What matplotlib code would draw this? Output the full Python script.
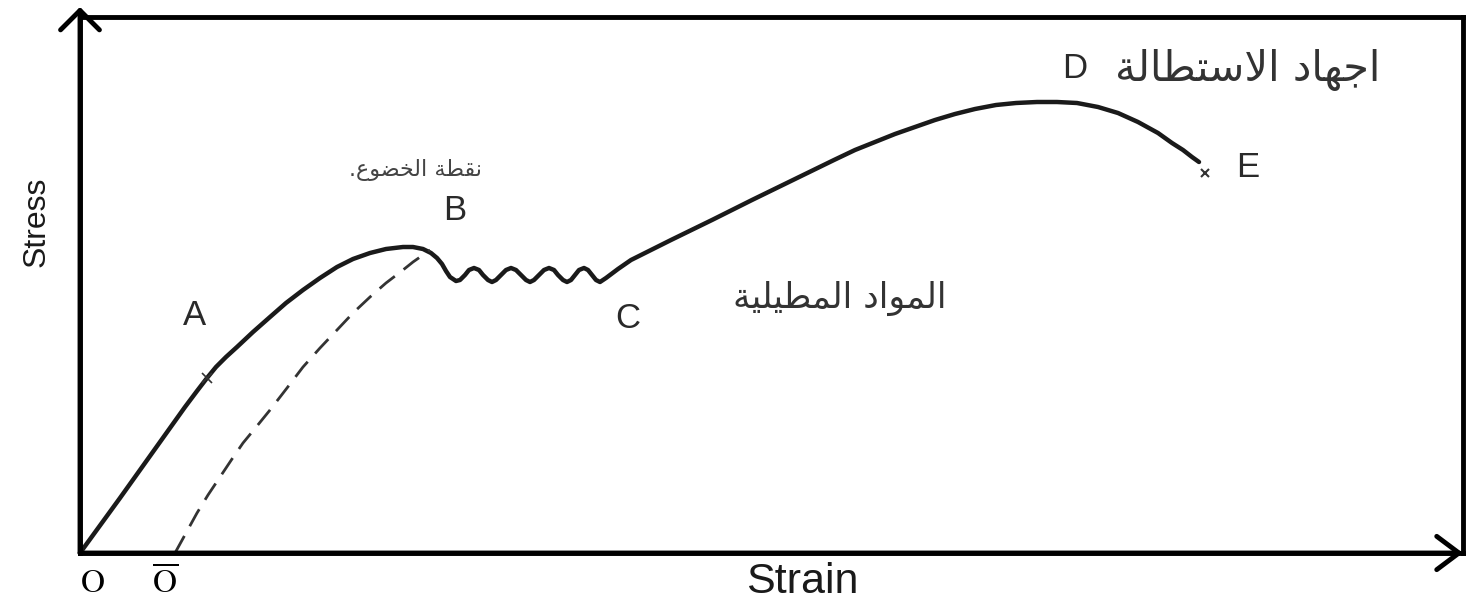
import matplotlib
matplotlib.use("Agg")
import matplotlib.pyplot as plt

# stress-strain curve for a ductile material (units: arbitrary)
# O -> A -> B (yield point)
strain_elastic = [0.00, 0.40, 0.80, 1.05, 1.17, 1.27, 1.36, 1.46, 1.57, 1.73,
                  1.90, 2.06, 2.23, 2.40, 2.57, 2.73, 2.90, 3.06, 3.23, 3.33,
                  3.43, 3.51, 3.57, 3.62, 3.66, 3.70, 3.76]
stress_elastic = [0.00, 0.55, 1.11, 1.46, 1.62, 1.75, 1.86, 1.96, 2.06, 2.21,
                  2.36, 2.50, 2.63, 2.75, 2.86, 2.94, 3.00, 3.04, 3.06, 3.06,
                  3.04, 3.00, 2.95, 2.89, 2.82, 2.76, 2.72]

# yielding ripples B -> C
strain_yield = [3.80, 3.85, 3.89, 3.94, 3.99, 4.03, 4.08, 4.12,
                4.16, 4.21, 4.26, 4.31, 4.36, 4.41, 4.46, 4.50,
                4.54, 4.59, 4.64, 4.69, 4.74, 4.78, 4.83, 4.87,
                4.91, 4.95, 4.99, 5.04, 5.08, 5.12, 5.16, 5.20]
stress_yield = [2.73, 2.78, 2.83, 2.85, 2.83, 2.78, 2.73, 2.71,
                2.73, 2.78, 2.83, 2.85, 2.83, 2.78, 2.73, 2.71,
                2.73, 2.78, 2.83, 2.85, 2.83, 2.78, 2.73, 2.71,
                2.73, 2.78, 2.83, 2.85, 2.83, 2.78, 2.73, 2.71]

# strain hardening C -> D -> E
strain_harden = [5.26, 5.38, 5.51, 5.71, 5.91, 6.32, 6.72, 7.13, 7.54, 7.75,
                 7.95, 8.15, 8.35, 8.55, 8.75, 8.95, 9.16, 9.36, 9.57, 9.77,
                 9.97, 10.18, 10.38, 10.58, 10.78, 10.92, 11.03, 11.12, 11.19]
stress_harden = [2.75, 2.84, 2.93, 3.03, 3.13, 3.33, 3.53, 3.73, 3.93, 4.03,
                 4.11, 4.19, 4.26, 4.33, 4.39, 4.44, 4.48, 4.50, 4.51, 4.51,
                 4.50, 4.46, 4.40, 4.31, 4.20, 4.10, 4.03, 3.96, 3.91]

# offset line from O-bar
strain_offset = [0.95, 1.06, 1.17, 1.28, 1.40, 1.52, 1.63, 1.77, 1.90, 2.07,
                 2.23, 2.40, 2.57, 2.73, 2.90, 3.06, 3.23, 3.33, 3.43, 3.50]
stress_offset = [0.00, 0.20, 0.40, 0.58, 0.76, 0.94, 1.10, 1.27, 1.43, 1.65,
                 1.86, 2.05, 2.23, 2.40, 2.56, 2.70, 2.83, 2.91, 2.98, 3.03]

point_a = (1.27, 1.75)
point_e = (11.25, 3.80)

point_names = ["A", "B", "C", "D", "E"]
point_label_xy = [(1.15, 2.38), (3.75, 3.43), (5.48, 2.35), (9.95, 4.85), (11.68, 3.86)]

# Arabic labels, pre-shaped into presentation forms in visual (left-to-right) order
# "نقطة الخضوع."
yield_text = ".\uFEC9\uFEEE\uFEC0\uFEA8\uFEDF\uFE8D \uFE94\uFEC4\uFED8\uFEE7"
# "المواد المطيلية"
ductile_text = "\uFE94\uFEF4\uFEE0\uFEF4\uFEC4\uFEE4\uFEDF\uFE8D \uFEA9\uFE8D\uFEEE\uFEE4\uFEDF\uFE8D"
# "اجهاد الاستطالة"
ultimate_text = "\uFE94\uFEDF\uFE8E\uFEC4\uFE98\uFEB3\uFEFB\uFE8D \uFEA9\uFE8E\uFEEC\uFE9F\uFE8D"

plt.rcParams["mathtext.fontset"] = "stix"

fig = plt.figure(figsize=(14.7, 6), dpi=100)
ax = fig.add_axes([80 / 1470, 47 / 600, 1383 / 1470, 536 / 600])
ax.set_xlim(0, 13.83)
ax.set_ylim(0, 5.36)
ax.set_xticks([])
ax.set_yticks([])
for s in ax.spines.values():
    s.set_linewidth(3.5)
    s.set_color("black")

line_kw = dict(color="#1a1a1a", lw=3.2, solid_capstyle="round", solid_joinstyle="round")
ax.plot(strain_elastic + strain_yield + strain_harden,
        stress_elastic + stress_yield + stress_harden, **line_kw)
ax.plot(strain_offset, stress_offset, color="#333333", lw=2.0, dashes=(7, 4))

ax.plot(*point_a, marker="x", ms=7, mew=1.2, color="#333333")
ax.plot(*point_e, marker="x", ms=6, mew=1.5, color="#333333")

for name, (x, y) in zip(point_names, point_label_xy):
    ax.text(x, y, name, fontsize=25, family="Liberation Sans", color="#2a2a2a",
            ha="center", va="center")

ax.text(3.35, 3.83, yield_text, fontsize=16, family="DejaVu Sans",
        color="#444444", ha="center", va="center")
ax.text(7.60, 2.55, ductile_text, fontsize=25, family="DejaVu Sans",
        color="#333333", ha="center", va="center")
ax.text(11.68, 4.83, ultimate_text, fontsize=30, family="DejaVu Sans",
        color="#333333", ha="center", va="center")

# axis arrows
ax.annotate("", xy=(0, 1 + 10 / 536), xytext=(0, 0.0), xycoords="axes fraction",
            annotation_clip=False,
            arrowprops=dict(arrowstyle="->,head_length=0.7,head_width=0.7",
                            lw=3.5, color="black", mutation_scale=20, shrinkA=0, shrinkB=0))
ax.annotate("", xy=(1.0, 0.0), xytext=(0.0, 0.0), xycoords="axes fraction",
            annotation_clip=False,
            arrowprops=dict(arrowstyle="->,head_length=0.8,head_width=0.6",
                            lw=3.5, color="black", mutation_scale=20, shrinkA=0, shrinkB=0))

# axis labels
ax.text(0.12, -0.29, r"$\mathrm{O}$", fontsize=24, ha="center", va="center")
ax.text(0.85, -0.29, r"$\overline{\mathrm{O}}$", fontsize=24, ha="center", va="center")
ax.text(7.22, -0.29, "Strain", fontsize=31, family="Liberation Sans",
        color="#1a1a1a", ha="center", va="center")
ax.text(-0.43, 3.31, "Stress", fontsize=23, family="Liberation Sans",
        color="#1a1a1a", ha="center", va="center", rotation=90)

fig.savefig("out.png", dpi=100)
